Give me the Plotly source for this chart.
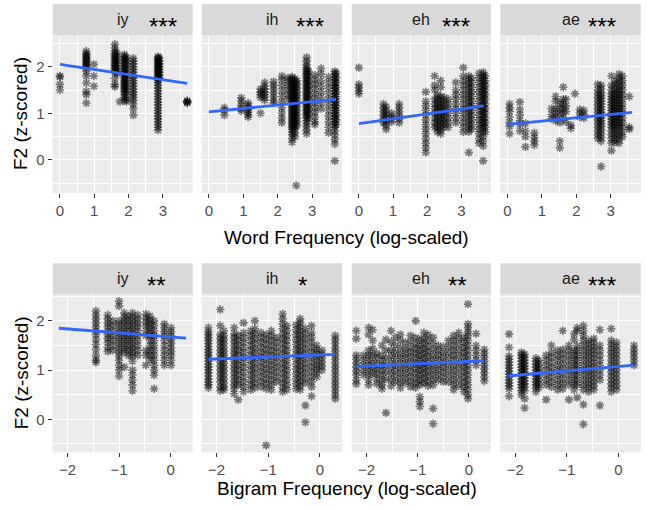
import plotly.graph_objects as go

W, H = 647, 510

# ---------------- data ----------------
# Word frequency panels: column x positions and the F2 values at each column
WF_IY_X = [0.0, 0.77, 0.99, 1.60, 1.66, 1.75, 1.88, 1.94, 2.14, 2.86, 2.90, 3.71]
WF_IY_Y = [
    [1.80, 1.78, 1.62, 1.50],
    [2.33, 2.28, 2.25, 2.22, 2.19, 2.16, 2.13, 2.10, 2.07, 2.04, 2.01, 1.98, 1.90, 1.80, 1.65, 1.47, 1.40, 1.22],
    [2.05, 1.80, 1.58],
    [2.48, 2.40, 2.33, 2.28, 2.24, 2.20, 2.16, 2.12, 2.08, 2.04, 2.00, 1.96, 1.92, 1.88, 1.75, 1.62, 1.57],
    [2.30, 2.22, 2.15, 2.08, 2.02, 1.96, 1.90, 1.85],
    [1.25],
    [2.26, 2.22, 2.18, 2.14, 2.10, 2.06, 2.02, 1.98, 1.94, 1.90, 1.86, 1.82, 1.78, 1.74, 1.70, 1.66, 1.62, 1.58, 1.54, 1.50, 1.46, 1.40, 1.34, 1.28],
    [2.20, 2.12, 2.04, 1.96, 1.88, 1.80, 1.72, 1.64, 1.56, 1.48, 1.40, 1.30, 1.25],
    [2.18, 2.12, 2.06, 2.00, 1.94, 1.88, 1.82, 1.76, 1.70, 1.64, 1.58, 1.52, 1.46, 1.40, 1.34, 1.28, 1.20, 1.10, 0.96],
    [2.22, 2.19, 2.16, 2.13, 2.10, 2.07, 2.04, 2.01, 1.98, 1.95, 1.92, 1.89, 1.86, 1.83, 1.80, 1.77, 1.74, 1.71, 1.66, 1.60, 1.54, 1.48, 1.42, 1.36, 1.30, 1.24, 1.18, 1.12, 1.06, 1.00, 0.94, 0.88, 0.82, 0.76, 0.70, 0.64],
    [2.18, 2.12, 2.06, 2.00, 1.94, 1.88, 1.82, 1.76],
    [1.27, 1.25, 1.24, 1.22],
]

WF_IH_X = [0.45, 0.94, 1.14, 1.50, 1.62, 1.88, 2.12, 2.30, 2.42, 2.50, 2.56, 2.54, 2.84, 2.90, 3.08, 3.26, 3.48, 3.66, 3.70]
WF_IH_Y = [
    [1.12, 1.06, 0.96],
    [1.33, 1.26, 1.17, 1.10, 1.05],
    [1.22, 1.17, 1.12, 1.07, 1.02, 0.97, 0.92],
    [1.52, 1.46, 1.40, 1.34, 1.00],
    [1.66, 1.58, 1.52, 1.46, 1.40, 1.34, 1.28],
    [1.68, 1.60, 1.52, 1.44, 1.36, 1.28, 1.22],
    [1.80, 1.72, 1.60, 1.48, 1.36, 1.24, 1.12, 1.00, 0.90, 0.80],
    [1.76, 1.70, 1.60, 1.50, 1.40, 1.30],
    [1.78, 1.74, 1.70, 1.66, 1.62, 1.58, 1.54, 1.50, 1.46, 1.42, 1.38, 1.34, 1.30, 1.26, 1.22, 1.18, 1.14, 1.10, 1.06, 1.02, 0.98, 0.94, 0.90, 0.86, 0.82, 0.78, 0.74, 0.70, 0.66, 0.60, 0.54, 0.46, 0.38],
    [1.74, 1.68, 1.62, 1.56, 1.50, 1.44, 1.38, 1.32, 1.26, 1.20, 1.14, 1.08, 1.02, 0.96, 0.90, 0.84, 0.78, 0.72, 0.66, 0.58, 0.50],
    [1.70, 1.62, 1.54, 1.46, 1.38, 1.30, 1.22, 1.14, 1.06, 0.98, 0.90, 0.82, 0.74],
    [-0.55],
    [2.20, 2.12, 2.04, 1.98, 1.94, 1.90, 1.86, 1.82, 1.78, 1.74, 1.70, 1.66, 1.62, 1.58, 1.54, 1.50, 1.46, 1.42, 1.38, 1.34, 1.30, 1.26, 1.22, 1.18, 1.14, 1.10, 1.06, 1.02, 0.98, 0.94, 0.90, 0.84, 0.78, 0.72, 0.64, 0.56],
    [1.90, 1.80, 1.70, 1.60, 1.50, 1.40, 1.30, 1.20, 1.10, 1.00, 0.90],
    [1.82, 1.72, 1.62, 1.52, 1.42, 1.32, 1.22, 1.12, 1.02, 0.92, 0.82, 0.76],
    [1.96, 1.84, 1.70, 1.58, 1.46, 1.34, 1.22, 1.10],
    [1.78, 1.66, 1.54, 1.42, 1.30, 1.18, 1.06, 0.94, 0.82, 0.70, 0.58],
    [1.90, 1.84, 1.78, 1.72, 1.66, 1.60, 1.54, 1.48, 1.42, 1.36, 1.30, 1.24, 1.18, 1.12, 1.06, 1.00, 0.94, 0.88, 0.82, 0.76, 0.70, 0.62, 0.54, 0.44, 0.34, -0.02],
    [1.86, 1.76, 1.66, 1.56, 1.46, 1.36, 1.26, 1.16, 1.06, 0.96, 0.86, 0.76],
]

WF_EH_X = [0.0, 0.72, 0.80, 0.96, 1.18, 1.96, 2.22, 2.30, 2.40, 2.50, 2.62, 2.84, 3.06, 3.22, 3.30, 3.52, 3.64, 3.70]
WF_EH_Y = [
    [1.98, 1.62, 1.55, 1.48, 1.42],
    [1.20, 1.12, 1.04, 0.96, 0.88, 0.80],
    [1.14, 1.06, 0.98, 0.90, 0.82, 0.74, 0.66],
    [1.00, 0.94, 0.88, 0.82],
    [1.20, 1.12, 1.04, 0.96, 0.88, 0.80],
    [1.46, 1.26, 1.16, 1.06, 0.96, 0.86, 0.76, 0.66, 0.56, 0.46, 0.36, 0.26, 0.16],
    [1.80, 1.60, 1.50, 1.30, 1.20, 1.10, 1.00, 0.90, 0.80, 0.70],
    [1.40, 1.32, 1.24, 1.16, 1.08, 1.00, 0.92, 0.84, 0.76, 0.68, 0.60],
    [1.70, 1.56, 1.36, 1.28, 1.20, 1.12, 1.04, 0.96, 0.88, 0.80, 0.72, 0.64, 0.56],
    [1.34, 1.26, 1.18, 1.10, 1.02, 0.94, 0.86, 0.78, 0.70],
    [1.30, 1.20, 1.10, 1.00, 0.90, 0.80, 0.70],
    [1.66, 1.50, 1.40, 1.30, 1.20, 1.10, 1.00, 0.90, 0.80],
    [1.98, 1.80, 1.70, 1.60, 1.50, 1.40, 1.30, 1.20, 1.10, 1.00, 0.90, 0.80, 0.70, 0.60],
    [1.80, 1.72, 1.64, 1.56, 1.48, 1.40, 1.32, 1.24, 1.16, 1.08, 1.00, 0.92, 0.84, 0.76, 0.68, 0.60, 0.16],
    [1.76, 1.66, 1.56, 1.46, 1.36, 1.26, 1.16, 1.06, 0.96, 0.86, 0.76, 0.66],
    [1.86, 1.76, 1.66, 1.56, 1.46, 1.36, 1.26, 1.16, 1.06, 0.96, 0.86, 0.76, 0.66, 0.56, 0.46, 0.36],
    [1.88, 1.82, 1.76, 1.70, 1.64, 1.58, 1.52, 1.46, 1.40, 1.34, 1.28, 1.22, 1.16, 1.10, 1.04, 0.98, 0.92, 0.86, 0.80, 0.74, 0.68, 0.60, 0.50, 0.40, 0.30, -0.02],
    [1.80, 1.70, 1.60, 1.50, 1.40, 1.30, 1.20, 1.10, 1.00, 0.90, 0.80, 0.70, 0.60],
]

WF_AE_X = [0.06, 0.36, 0.52, 0.78, 1.28, 1.40, 1.52, 1.62, 1.70, 1.84, 1.96, 2.10, 2.22, 2.62, 2.72, 3.02, 3.12, 3.24, 3.34, 3.54]
WF_AE_Y = [
    [1.20, 1.12, 1.04, 0.92, 0.80, 0.72, 0.56],
    [1.24, 1.08, 0.96, 0.84, 0.76, 0.62],
    [0.78, 0.62, 0.50, 0.28],
    [0.58, 0.48, 0.40, 0.32],
    [1.10, 0.98, 0.88],
    [1.36, 1.26, 1.10, 1.00, 0.92, 0.84],
    [1.22, 1.10, 0.98, 0.80, 0.40, 0.26],
    [1.56, 1.30, 1.20, 1.10, 1.00, 0.90],
    [1.30, 1.16, 1.04, 0.82],
    [0.74, 0.68],
    [1.42],
    [1.08, 1.00, 0.92],
    [1.06, 0.98, 0.90],
    [1.62, 1.50, 1.42, 1.34, 1.26, 1.18, 1.10, 1.02, 0.94, 0.86, 0.78, 0.70, 0.62, 0.54, 0.46],
    [1.60, 1.52, 1.44, 1.38, 1.32, 1.26, 1.20, 1.14, 1.08, 1.02, 0.96, 0.90, 0.84, 0.78, 0.72, 0.64, 0.56, 0.48, 0.40, -0.14],
    [1.80, 1.60, 1.50, 1.42, 1.36, 1.30, 1.24, 1.18, 1.12, 1.06, 1.00, 0.94, 0.88, 0.82, 0.76, 0.70, 0.62, 0.54, 0.46, 0.36, 0.20],
    [1.70, 1.62, 1.54, 1.46, 1.40, 1.34, 1.28, 1.22, 1.16, 1.10, 1.04, 0.98, 0.92, 0.86, 0.80, 0.74, 0.68, 0.62, 0.54, 0.46, 0.38],
    [1.84, 1.76, 1.68, 1.60, 1.52, 1.46, 1.40, 1.34, 1.28, 1.22, 1.16, 1.10, 1.04, 0.98, 0.92, 0.86, 0.80, 0.74, 0.68, 0.60, 0.52, 0.44, 0.36],
    [1.80, 1.70, 1.60, 1.50, 1.40, 1.30, 1.20, 1.10, 1.00, 0.90, 0.80, 0.70, 0.60, 0.50],
    [1.36, 0.70, 0.66],
]

# Bigram frequency panels
BF_IY_X = [-1.45, -1.22, -1.12, -1.00, -0.90, -0.82, -0.74, -0.64, -0.48, -0.40, -0.32, -0.12, 0.01]
BF_IY_Y = [
    [2.20, 2.12, 2.04, 1.96, 1.88, 1.80, 1.72, 1.62, 1.52, 1.42, 1.30, 1.20, 1.16],
    [2.12, 2.04, 1.96, 1.88, 1.80, 1.72, 1.64, 1.56, 1.46, 1.38],
    [2.00, 1.90, 1.80, 1.70, 1.60, 1.50, 1.40],
    [2.40, 2.30, 2.00, 1.92, 1.84, 1.76, 1.68, 1.60, 1.52, 1.44, 1.36, 1.28, 1.20, 1.10, 1.00, 0.88],
    [2.16, 2.08, 2.00, 1.92, 1.84, 1.76, 1.68, 1.60, 1.52, 1.44, 1.36, 1.06],
    [2.10, 2.00, 1.90, 1.80, 1.70, 1.60, 1.50, 1.40, 1.30],
    [2.16, 2.08, 2.00, 1.92, 1.84, 1.76, 1.68, 1.60, 1.52, 1.44, 1.36, 1.28, 1.18, 1.00, 0.90, 0.80, 0.70, 0.58],
    [2.12, 2.04, 1.96, 1.88, 1.80, 1.70, 1.60, 1.50, 1.40, 1.30],
    [2.14, 2.06, 1.98, 1.90, 1.80, 1.70, 1.40, 1.30, 1.10],
    [2.10, 2.02, 1.94, 1.86, 1.78, 1.70, 1.60, 1.50, 1.40, 1.30, 1.20],
    [2.00, 1.90, 1.80, 1.70, 1.60, 1.50, 1.40, 1.30, 1.20, 1.10, 1.00, 0.90, 0.62],
    [1.94, 1.86, 1.78, 1.70, 1.60, 1.50, 1.40, 1.30, 1.20, 1.10],
    [1.86, 1.78, 1.70, 1.62, 1.54, 1.46, 1.38, 1.30, 1.20, 1.10],
]

BF_IH_X = [-2.16, -1.93, -1.86, -1.66, -1.58, -1.48, -1.34, -1.26, -1.14, -1.04, -0.94, -0.84, -0.72, -0.64, -0.46, -0.38, -0.28, -0.16, -0.06, 0.04, 0.30]
BF_IH_Y = [
    [1.86, 1.78, 1.72, 1.66, 1.60, 1.54, 1.48, 1.42, 1.36, 1.30, 1.24, 1.18, 1.12, 1.06, 1.00, 0.94, 0.88, 0.82, 0.76, 0.70, 0.64],
    [2.23, 1.90, 1.72, 1.64, 1.56, 1.48, 1.40, 1.32, 1.24, 1.16, 1.08, 1.00, 0.92, 0.84, 0.76, 0.66, 0.58],
    [1.80, 1.70, 1.62, 1.54, 1.46, 1.38, 1.30, 1.22, 1.14, 1.06, 0.98, 0.90, 0.82, 0.74, 0.66, 0.60],
    [1.86, 1.74, 1.66, 1.58, 1.50, 1.42, 1.34, 1.26, 1.18, 1.10, 1.02, 0.94, 0.86, 0.78, 0.70, 0.62, 0.52],
    [1.70, 1.60, 1.50, 1.40, 1.30, 1.20, 1.10, 1.00, 0.90, 0.80, 0.70, 0.40],
    [1.96, 1.76, 1.66, 1.56, 1.46, 1.36, 1.26, 1.16, 1.06, 0.96, 0.86, 0.76, 0.66, 0.56],
    [1.80, 1.70, 1.60, 1.50, 1.40, 1.30, 1.20, 1.10, 1.00, 0.90, 0.80, 0.70, 0.60],
    [2.00, 1.84, 1.74, 1.64, 1.54, 1.44, 1.34, 1.24, 1.14, 1.04, 0.94, 0.84, 0.74, 0.64],
    [1.76, 1.66, 1.56, 1.46, 1.36, 1.26, 1.16, 1.06, 0.96, 0.86, 0.76, 0.66],
    [1.72, 1.62, 1.52, 1.42, 1.32, 1.22, 1.12, 1.02, 0.92, 0.82, 0.72, 0.62, -0.53],
    [1.80, 1.70, 1.60, 1.50, 1.40, 1.30, 1.20, 1.10, 1.00, 0.90, 0.80, 0.70, 0.60],
    [1.66, 1.56, 1.46, 1.36, 1.26, 1.16, 1.06, 0.96, 0.86, 0.76],
    [2.14, 2.04, 1.94, 1.84, 1.74, 1.64, 1.54, 1.44, 1.34, 1.24, 1.14, 1.04, 0.94, 0.84, 0.74, 0.64, 0.56],
    [1.90, 1.80, 1.70, 1.60, 1.50, 1.40, 1.30, 1.20, 1.10, 1.00, 0.90, 0.80, 0.70, 0.60],
    [1.92, 1.82, 1.72, 1.62, 1.52, 1.42, 1.32, 1.22, 1.12, 1.02, 0.92, 0.82, 0.72, 0.62],
    [2.04, 1.96, 1.88, 1.80, 1.72, 1.64, 1.56, 1.48, 1.40, 1.32, 1.24, 1.16, 1.08, 1.00, 0.92, 0.84, 0.76, 0.68, 0.60],
    [1.84, 1.74, 1.64, 1.54, 1.44, 1.34, 1.24, 1.14, 1.04, 0.94, 0.84, 0.74, 0.28, -0.06],
    [1.90, 1.76, 1.66, 1.56, 1.46, 1.36, 1.26, 1.16, 1.06, 0.96, 0.86, 0.76, 0.66, 0.47],
    [1.50, 1.42, 1.34, 1.26, 1.18, 1.10, 1.02, 0.94, 0.86],
    [1.40, 1.32, 1.24, 1.16, 1.08, 1.00],
    [1.70, 1.62, 1.54, 1.46, 1.38, 1.30, 1.22, 1.14, 1.06, 0.98, 0.90, 0.82, 0.74, 0.66, 0.58, 0.50, 0.42],
]

BF_EH_X = [-2.20, -2.06, -1.96, -1.88, -1.80, -1.70, -1.62, -1.52, -1.44, -1.34, -1.24, -1.14, -1.04, -0.96, -0.88, -0.80, -0.70, -0.60, -0.50, -0.40, -0.30, -0.20, -0.10, -0.02, 0.14, 0.30]
BF_EH_Y = [
    [1.80, 1.64, 1.30, 1.22, 1.14, 1.06, 0.98, 0.90, 0.80, 0.72],
    [1.30, 1.20, 1.10, 1.00, 0.90],
    [1.86, 1.72, 1.40, 1.30, 1.20, 1.10, 1.00, 0.90, 0.80, 0.70],
    [1.82, 1.60, 1.44, 1.30, 1.16, 1.04, 0.92],
    [1.34, 1.24, 1.12, 1.02, 0.92, 0.82, 0.72],
    [1.50, 1.30, 1.20, 1.10, 1.00, 0.90, 0.80, 0.70, 0.62],
    [1.62, 1.40, 1.24, 1.10, 0.96, 0.82, 0.13],
    [1.80, 1.56, 1.40, 1.28, 1.16, 1.04, 0.92, 0.80, 0.68],
    [1.66, 1.50, 1.36, 1.24, 1.12, 1.00, 0.88, 0.76],
    [1.72, 1.60, 1.46, 1.34, 1.24, 1.14, 1.04, 0.94, 0.84, 0.74, 0.64],
    [1.56, 1.44, 1.34, 1.24, 1.14, 1.04, 0.94, 0.84, 0.74],
    [1.70, 1.58, 1.46, 1.36, 1.26, 1.16, 1.06, 0.96, 0.86, 0.76, 0.66],
    [2.00, 1.66, 1.54, 1.44, 1.34, 1.24, 1.14, 1.04, 0.94, 0.84, 0.74, 0.64],
    [1.62, 1.50, 1.40, 1.30, 1.20, 1.10, 1.00, 0.90, 0.80, 0.70, 0.46, 0.36, 0.26],
    [1.76, 1.64, 1.54, 1.44, 1.34, 1.24, 1.14, 1.04, 0.94, 0.84, 0.74],
    [1.72, 1.60, 1.48, 1.38, 1.28, 1.18, 1.08, 0.98, 0.88, 0.78, 0.68],
    [1.66, 1.54, 1.42, 1.30, 1.20, 1.10, 1.00, 0.90, 0.80, 0.70, 0.22, -0.09],
    [1.50, 1.40, 1.30, 1.20, 1.10, 1.00, 0.90, 0.80],
    [1.48, 1.36, 1.26, 1.16, 1.06, 0.96, 0.86, 0.76],
    [1.60, 1.48, 1.36, 1.24, 1.12, 1.00, 0.88, 0.76],
    [1.70, 1.60, 1.50, 1.40, 1.30, 1.20, 1.10, 1.00, 0.90, 0.80, 0.70, 0.60],
    [1.76, 1.64, 1.52, 1.40, 1.28, 1.16, 1.04, 0.92, 0.80, 0.68],
    [1.66, 1.56, 1.46, 1.36, 1.26, 1.16, 1.06, 0.96, 0.86, 0.76, 0.66, 0.56],
    [2.34, 1.94, 1.86, 1.78, 1.70, 1.60, 1.50, 1.40, 1.30, 1.20, 1.10, 1.00, 0.90, 0.80, 0.70, 0.60, 0.50, 0.42],
    [1.74, 1.50, 1.40, 1.30, 1.20, 1.10],
    [1.42, 1.34, 1.26, 1.18, 1.10, 1.02, 0.94, 0.86, 0.78],
]

BF_AE_X = [-2.12, -1.88, -1.82, -1.60, -1.54, -1.40, -1.30, -1.18, -1.08, -0.96, -0.86, -0.80, -0.68, -0.58, -0.48, -0.36, -0.14, -0.04, 0.30]
BF_AE_Y = [
    [1.73, 1.46, 1.28, 1.22, 1.16, 1.10, 1.04, 0.98, 0.92, 0.86, 0.80, 0.74, 0.68, 0.62, 0.47],
    [1.36, 1.30, 1.24, 1.18, 1.12, 1.06, 1.00, 0.94, 0.88, 0.82, 0.76, 0.70, 0.64, 0.58, 0.50],
    [1.32, 1.26, 1.20, 1.14, 1.08, 1.02, 0.96, 0.90, 0.84, 0.78, 0.72, 0.66, 0.58, 0.42, 0.23],
    [1.24, 1.18, 1.12, 1.06, 1.00, 0.94, 0.88, 0.82, 0.76, 0.70, 0.64, 0.56],
    [1.20, 1.12, 1.04, 0.96, 0.88, 0.80, 0.72, 0.64],
    [1.30, 1.20, 1.10, 1.00, 0.90, 0.80, 0.70, 0.40],
    [1.50, 1.36, 1.26, 1.16, 1.06, 0.96, 0.86, 0.76, 0.66],
    [1.40, 1.30, 1.20, 1.10, 1.00, 0.90, 0.80, 0.70, 0.60],
    [1.80, 1.42, 1.32, 1.22, 1.12, 1.02, 0.92, 0.82, 0.72, 0.62],
    [1.50, 1.40, 1.30, 1.20, 1.10, 1.00, 0.90, 0.80, 0.70, 0.40],
    [1.74, 1.62, 1.40, 1.30, 1.20, 1.10, 1.00, 0.90, 0.80, 0.70, 0.60],
    [1.86, 1.80, 1.50, 1.40, 1.30, 1.20, 1.10, 1.00, 0.90, 0.80, 0.70, 0.44],
    [1.90, 1.80, 1.70, 1.60, 1.50, 1.40, 1.30, 1.20, 1.10, 1.00, 0.90, 0.80, 0.70, 0.60, 0.30, -0.10],
    [1.60, 1.52, 1.44, 1.36, 1.28, 1.20, 1.12, 1.04, 0.96, 0.88, 0.80, 0.72, 0.64, 0.56],
    [1.64, 1.56, 1.48, 1.40, 1.32, 1.24, 1.16, 1.08, 1.00, 0.92, 0.84, 0.76, 0.68, 0.60],
    [1.82, 1.50, 1.40, 1.30, 1.20, 1.10, 1.00, 0.90, 0.80, 0.28],
    [1.84, 1.60, 1.52, 1.44, 1.36, 1.28, 1.20, 1.12, 1.04, 0.96, 0.88, 0.80, 0.72, 0.64, 0.56],
    [1.56, 1.48, 1.40, 1.32, 1.24, 1.16, 1.08, 1.00, 0.92, 0.84, 0.76, 0.68, 0.60],
    [1.50, 1.42, 1.34, 1.26, 1.18, 1.10],
]

# Linear-fit lines: end points
FIT_X = [[0.0, 3.71], [0.0, 3.70], [0.0, 3.66], [0.0, 3.62],
         [-2.17, 0.30], [-2.16, 0.30], [-2.20, 0.29], [-2.14, 0.30]]
FIT_Y = [[2.05, 1.64], [1.03, 1.30], [0.78, 1.16], [0.76, 1.02],
         [1.85, 1.65], [1.22, 1.32], [1.07, 1.19], [0.88, 1.10]]

VOWELS = ["iy", "ih", "eh", "ae", "iy", "ih", "eh", "ae"]
STARS = ["***", "***", "***", "***", "**", "*", "**", "***"]
X_TITLES = ["Word Frequency (log-scaled)", "Bigram Frequency (log-scaled)"]
Y_TITLE = "F2 (z-scored)"
TOP_XTICKS = [0, 1, 2, 3]
BOT_XTICKS = [-2, -1, 0]
YTICKS = [0, 1, 2]

PANEL_DATA = [(WF_IY_X, WF_IY_Y), (WF_IH_X, WF_IH_Y), (WF_EH_X, WF_EH_Y), (WF_AE_X, WF_AE_Y),
              (BF_IY_X, BF_IY_Y), (BF_IH_X, BF_IH_Y), (BF_EH_X, BF_EH_Y), (BF_AE_X, BF_AE_Y)]

# ---------------- layout geometry (pixels) ----------------
COLS_PX = [(52.7, 192.7), (201.7, 342.0), (351.7, 491.0), (500.3, 640.7)]
ROW_PLOT_PX = [(35.0, 193.0), (294.3, 452.3)]
ROW_STRIP_PX = [(4.0, 35.0), (263.3, 294.3)]
X_RANGES = [[-0.21, 3.87], [-2.29, 0.43]]
Y_RANGES = [[-0.71, 2.68], [-0.67, 2.54]]
STAR_CX = [163, 310, 456, 602, 156, 302, 457, 602]
XTITLE_Y = [237, 488]

FONT = "Liberation Sans, Arial, sans-serif"

fig = go.Figure()
layout = dict(
    width=W, height=H, margin=dict(l=0, r=0, t=0, b=0),
    paper_bgcolor="white", plot_bgcolor="#EBEBEB", showlegend=False,
    font=dict(family=FONT, size=15, color="#4D4D4D"),
)
shapes = []
annotations = []

for i, (cx, cy) in enumerate(PANEL_DATA):
    row, col = divmod(i, 4)
    n = i + 1
    xs = [x for x, ys in zip(cx, cy) for _ in ys]
    ys = [y for ycol in cy for y in ycol]
    xa = "x" if n == 1 else f"x{n}"
    ya = "y" if n == 1 else f"y{n}"
    fig.add_trace(go.Scatter(
        x=xs, y=ys, mode="markers", xaxis=xa, yaxis=ya,
        marker=dict(symbol="asterisk-open", size=7, color="rgba(0,0,0,0.5)",
                    line=dict(width=1.6, color="rgba(0,0,0,0.5)")),
        hoverinfo="skip"))
    fig.add_trace(go.Scatter(
        x=FIT_X[i], y=FIT_Y[i], mode="lines", xaxis=xa, yaxis=ya,
        line=dict(color="#3366FF", width=2.8), hoverinfo="skip"))

    x0, x1 = COLS_PX[col]
    y0, y1 = ROW_PLOT_PX[row]
    grid = dict(showgrid=True, gridcolor="white", gridwidth=1.3, zeroline=False,
                ticks="outside", ticklen=4, tickwidth=1.2, tickcolor="#333333",
                tickfont=dict(family=FONT, size=15, color="#4D4D4D"),
                minor=dict(dtick=0.5, showgrid=True, gridcolor="white", gridwidth=0.6, ticks=""),
                showline=False, fixedrange=True)
    layout["xaxis" if n == 1 else f"xaxis{n}"] = dict(
        grid, domain=[x0 / W, x1 / W], range=X_RANGES[row], anchor=ya,
        tickmode="array", tickvals=TOP_XTICKS if row == 0 else BOT_XTICKS,
        minor=dict(grid["minor"], tick0=0))
    layout["yaxis" if n == 1 else f"yaxis{n}"] = dict(
        grid, domain=[1 - y1 / H, 1 - y0 / H], range=Y_RANGES[row], anchor=xa,
        tickmode="array", tickvals=YTICKS,
        showticklabels=(col == 0), ticks="outside" if col == 0 else "",
        minor=dict(grid["minor"], tick0=0))

    sy0, sy1 = ROW_STRIP_PX[row]
    shapes.append(dict(type="rect", xref="paper", yref="paper",
                       x0=x0 / W, x1=x1 / W, y0=1 - sy1 / H, y1=1 - sy0 / H,
                       fillcolor="#D9D9D9", line=dict(width=0), layer="below"))
    annotations.append(dict(text=VOWELS[i], xref="paper", yref="paper",
                            x=(x0 + x1) / 2 / W, y=1 - (sy0 + sy1) / 2 / H,
                            xanchor="center", yanchor="middle", showarrow=False,
                            font=dict(family=FONT, size=16, color="#1A1A1A")))
    annotations.append(dict(text=STARS[i], xref="paper", yref="paper",
                            x=STAR_CX[i] / W, y=1 - ((sy0 + sy1) / 2 + 6.5) / H,
                            xanchor="center", yanchor="middle", showarrow=False,
                            font=dict(family=FONT, size=24, color="black")))

for r in range(2):
    annotations.append(dict(text=X_TITLES[r], xref="paper", yref="paper",
                            x=(COLS_PX[0][0] + COLS_PX[3][1]) / 2 / W, y=1 - XTITLE_Y[r] / H,
                            xanchor="center", yanchor="middle", showarrow=False,
                            font=dict(family=FONT, size=19, color="black")))
    y0, y1 = ROW_PLOT_PX[r]
    annotations.append(dict(text=Y_TITLE, xref="paper", yref="paper",
                            x=21 / W, y=1 - (y0 + y1) / 2 / H, textangle=-90,
                            xanchor="center", yanchor="middle", showarrow=False,
                            font=dict(family=FONT, size=19, color="black")))

layout["shapes"] = shapes
layout["annotations"] = annotations
fig.update_layout(**layout)
fig.write_html("out.html")
